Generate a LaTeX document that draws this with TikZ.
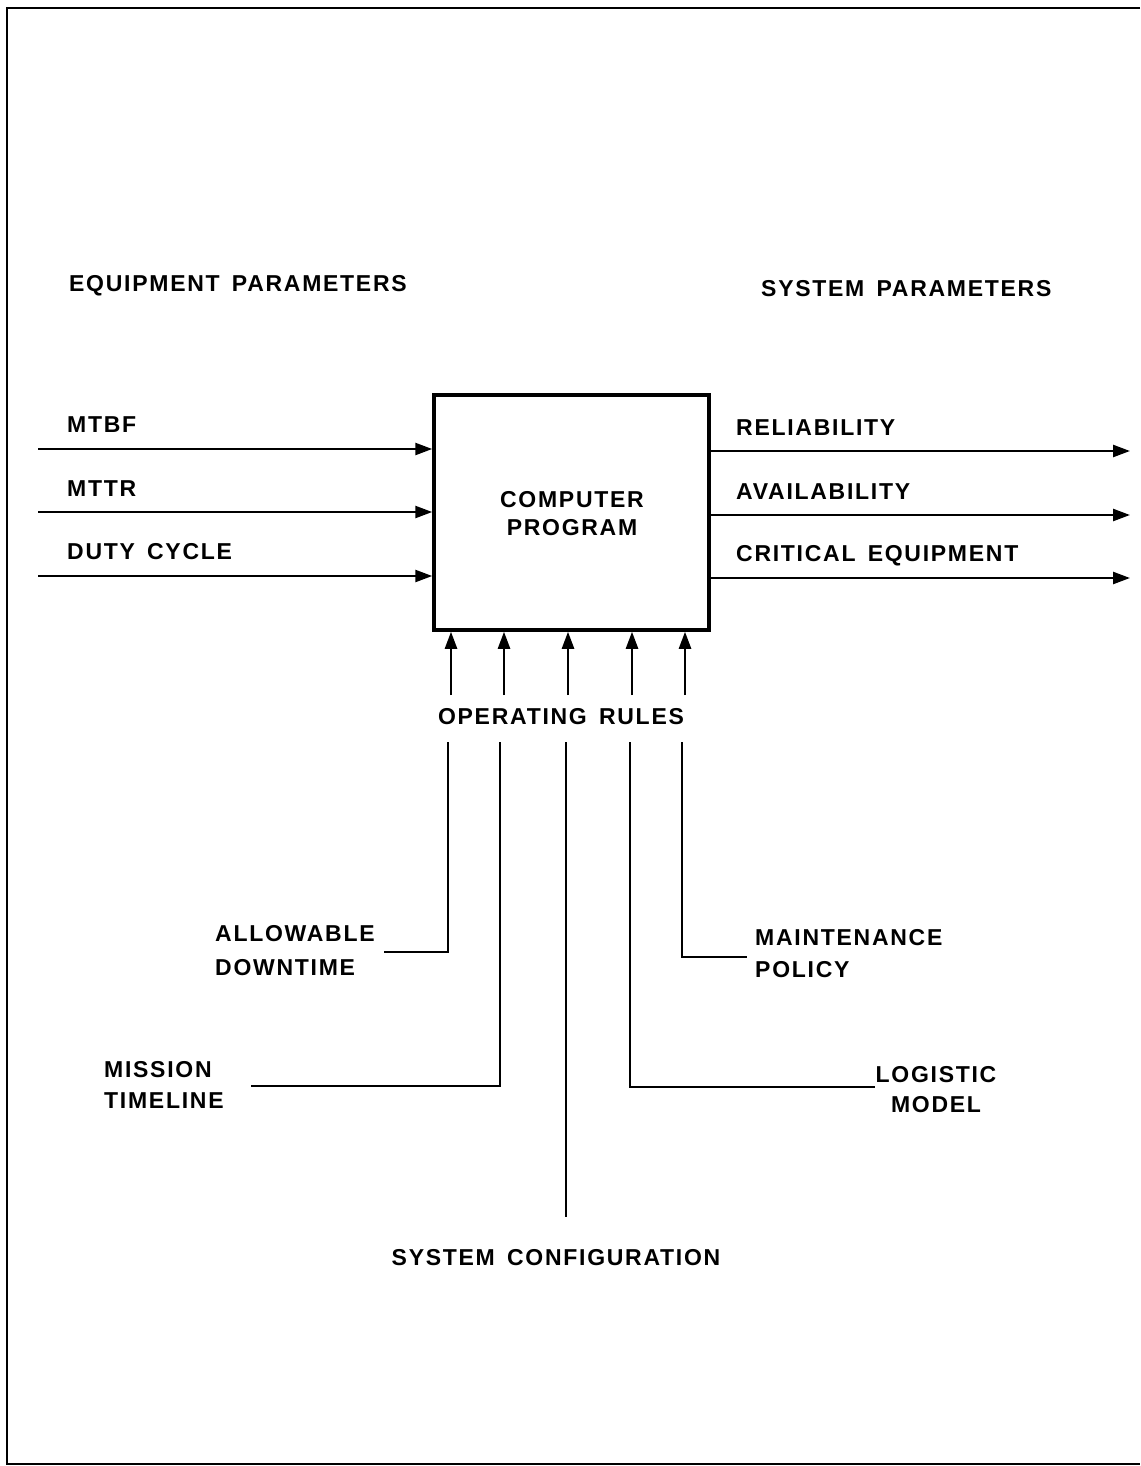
\documentclass[tikz,border=0pt]{standalone}
\usepackage{fontspec}
\newfontfamily\lab{Liberation Sans}[LetterSpace=7.5,WordSpace=1.5]
\usetikzlibrary{arrows.meta}
\tikzset{
  lbl/.style={font=\lab\bfseries\fontsize{23}{33}\selectfont, inner sep=0pt},
  conn/.style={line width=2.4pt},
  arr/.style={conn, -{Triangle[length=17pt,width=12pt]}},
}
\begin{document}
\begin{tikzpicture}[x=1pt,y=-1pt]
\useasboundingbox (0,0) rectangle (1140,1466);
% frame
\draw[line width=2pt] (1140,8) -- (7,8) -- (7,1464) -- (1140,1464);
% headings
\node[lbl,anchor=west] (eqp) at (69,286) {EQUIPMENT PARAMETERS};
\node[lbl,anchor=west] (sysp) at (761,289) {SYSTEM PARAMETERS};
% box
\node[draw,line width=3.5pt,minimum width=275pt,minimum height=235pt,inner sep=0pt] (prog) at (571.5,512.5) {};
\node[lbl,align=center,font=\lab\bfseries\fontsize{23}{28}\selectfont] (progtxt) at (572,514) {COMPUTER\\PROGRAM};
% inputs
\node[lbl,anchor=west] (mtbf) at (67,425) {MTBF};
\node[lbl,anchor=west] (mttr) at (67,489) {MTTR};
\node[lbl,anchor=west] (duty) at (67,552) {DUTY CYCLE};
\coordinate (i1) at (38,449);
\coordinate (i2) at (38,512);
\coordinate (i3) at (38,576);
\draw[arr] (i1) -- (i1 -| prog.west);
\draw[arr] (i2) -- (i2 -| prog.west);
\draw[arr] (i3) -- (i3 -| prog.west);
% outputs
\node[lbl,anchor=west] (rel) at (736,428) {RELIABILITY};
\node[lbl,anchor=west] (avail) at (736,492) {AVAILABILITY};
\node[lbl,anchor=west] (crit) at (736,556) {CRITICAL EQUIPMENT};
\coordinate (o1) at (1130,451);
\coordinate (o2) at (1130,515);
\coordinate (o3) at (1130,578);
\draw[arr] (o1 -| prog.east) -- (o1);
\draw[arr] (o2 -| prog.east) -- (o2);
\draw[arr] (o3 -| prog.east) -- (o3);
% operating rules arrows
\node[lbl] (oprules) at (561,717) {OPERATING RULES};
\foreach \n/\x in {1/451,2/504,3/568,4/632,5/685}{
  \coordinate (b\n) at (\x,695);
  \draw[arr] (b\n) -- (b\n |- prog.south);
}
% feeder lines
\coordinate (u1) at (448,742); \coordinate (v1) at (384,952);
\coordinate (u2) at (500,742); \coordinate (v2) at (251,1086);
\coordinate (u3) at (566,742); \coordinate (v3) at (566,1217);
\coordinate (u4) at (630,742); \coordinate (v4) at (875,1087);
\coordinate (u5) at (682,742); \coordinate (v5) at (747,957);
\draw[conn] (u1) |- (v1);
\draw[conn] (u2) |- (v2);
\draw[conn] (u3) -- (v3);
\draw[conn] (u4) |- (v4);
\draw[conn] (u5) |- (v5);
% feeder labels
\node[lbl,anchor=west,align=left,font=\lab\bfseries\fontsize{23}{34}\selectfont] (allow) at (215,951) {ALLOWABLE\\DOWNTIME};
\node[lbl,anchor=west,align=left,font=\lab\bfseries\fontsize{23}{31}\selectfont] (miss) at (104,1085) {MISSION\\TIMELINE};
\node[lbl] (syscfg) at (556,1258) {SYSTEM CONFIGURATION};
\node[lbl,align=center,font=\lab\bfseries\fontsize{23}{30}\selectfont] (logi) at (936,1090) {LOGISTIC\\MODEL};
\node[lbl,anchor=west,align=left,font=\lab\bfseries\fontsize{23}{32}\selectfont] (maint) at (755,954) {MAINTENANCE\\POLICY};
\end{tikzpicture}
\end{document}
